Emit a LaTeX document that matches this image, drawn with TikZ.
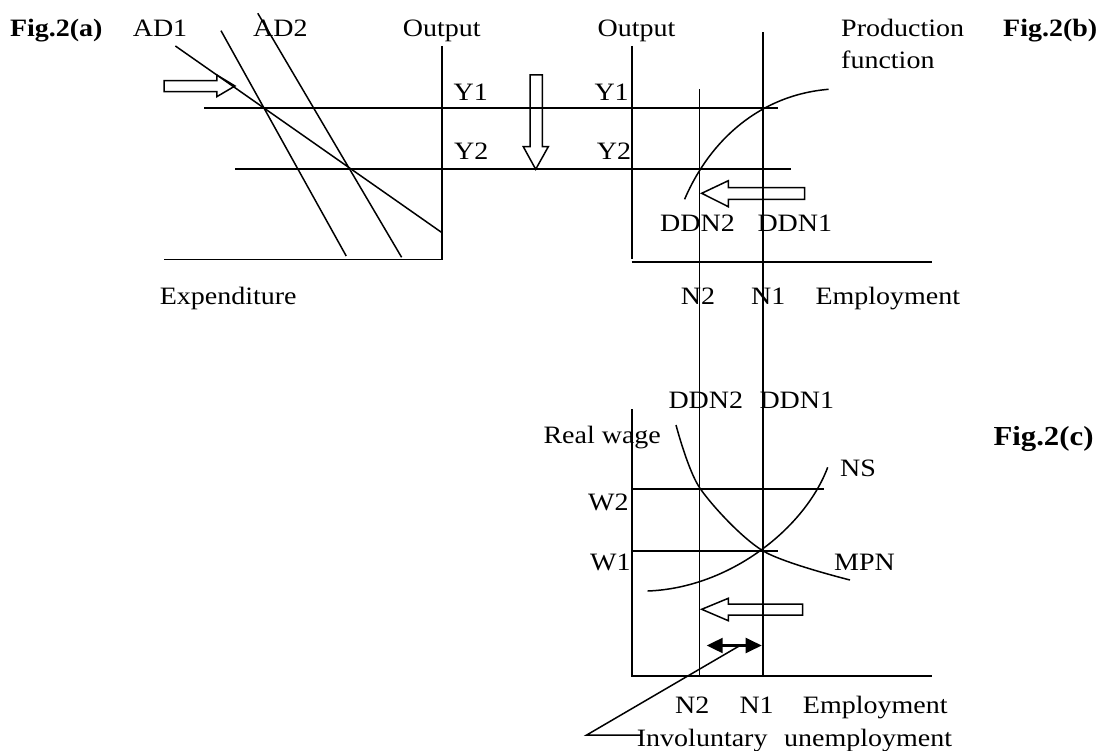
\documentclass[tikz,border=0pt]{standalone}
\usepackage{fontspec}
\setmainfont{Liberation Serif}[FakeStretch=1.12]
\usetikzlibrary{arrows.meta}
\begin{document}
\begin{tikzpicture}[x=1pt,y=-1pt,
  lbl/.style={anchor=base west, inner sep=0pt, font=\fontsize{25}{30}\selectfont},
  figlbl/.style={lbl, font=\fontsize{25}{30}\selectfont\bfseries},
  figlblc/.style={lbl, font=\fontsize{27.5}{32}\selectfont\bfseries},
  ln/.style={line width=1.9pt},
  thinln/.style={line width=1.5pt},
  blk/.style={line width=1.5pt, line join=miter},
  dbl/.style={line width=2.2pt, {Triangle[length=16pt,width=15pt]}-{Triangle[length=16pt,width=15pt]}}
]
\useasboundingbox (0,0) rectangle (1101,751);

% ---------- coordinates ----------
\coordinate (ad1s) at (175.4,46);   \coordinate (ad1e) at (442,232.7);
\coordinate (ads)  at (221,30.7);   \coordinate (ade)  at (346.2,256);
\coordinate (ad2s) at (257.8,13.3); \coordinate (ad2e) at (401.6,257.3);
\coordinate (axaT) at (442,46);     \coordinate (axaO) at (442,259.5); \coordinate (axaL) at (164.2,259.5);
\coordinate (y1L) at (204,107.7);   \coordinate (y1R) at (777.7,107.7);
\coordinate (y2L) at (235,169.3);   \coordinate (y2R) at (790.7,169.3);
\coordinate (axbT) at (631.7,46);   \coordinate (axbB) at (631.7,259.3);
\coordinate (axbL) at (631.7,262);  \coordinate (axbR) at (932.3,262);
\coordinate (n2T) at (699.5,89.3);  \coordinate (n2B) at (699.5,676);
\coordinate (n1T) at (763,32.3);    \coordinate (n1B) at (763,676);
\coordinate (axcT) at (631.7,409.3);\coordinate (axcO) at (631.7,676); \coordinate (axcR) at (931.7,676);
\coordinate (w2L) at (631.7,488.7); \coordinate (w2R) at (824,488.7);
\coordinate (w1L) at (631.7,551);   \coordinate (w1R) at (777.7,551);
\coordinate (pfA) at (684.6,199.3); \coordinate (pfB) at (828.6,89.3);
\coordinate (mpA) at (676,425);     \coordinate (mpB) at (850,580);
\coordinate (nsA) at (647.7,591);   \coordinate (nsB) at (827.7,467.3);
\coordinate (daL) at (706.7,645.5); \coordinate (daR) at (761.7,645.5);
\coordinate (ptrM) at (740,645.5);  \coordinate (ptrK) at (586.7,735); \coordinate (ptrE) at (641.7,735);

% ---------- panel (a) ----------
\draw[thinln] (ad1s) -- (ad1e);
\draw[thinln] (ads) -- (ade);
\draw[thinln] (ad2s) -- (ad2e);
\draw[ln] (axaT) -- (axaO) -- (axaL);
\draw[ln] (y1L) -- (y1R);
\draw[ln] (y2L) -- (y2R);

% open block arrows
\draw[blk] (164.2,80.7) -- (216.8,80.7) -- (216.8,75) -- (235,86) -- (216.8,96.7) -- (216.8,91.7) -- (164.2,91.7) -- cycle;
\draw[blk] (530,75) -- (542.3,75) -- (542.3,146.7) -- (548.3,146.7) -- (535.7,169.3) -- (523.3,146.7) -- (530,146.7) -- cycle;

% ---------- panel (b) ----------
\draw[ln] (axbT) -- (axbB);
\draw[ln] (axbL) -- (axbR);
\draw[ln] (n2T) -- (n2B);
\draw[ln] (n1T) -- (n1B);
\draw[thinln] (pfA) .. controls (710,140) and (760,95) .. (pfB);
\draw[blk] (804.7,187.7) -- (728.3,187.7) -- (728.3,180.7) -- (701.7,193.3) -- (728.3,206.7) -- (728.3,199.3) -- (804.7,199.3) -- cycle;

% ---------- panel (c) ----------
\draw[ln] (axcT) -- (axcO) -- (axcR);
\draw[ln] (w2L) -- (w2R);
\draw[thinln] (w1L) -- (w1R);
\draw[thinln] plot[smooth] coordinates {(mpA) (700,488.3) (762.7,550.7) (mpB)};
\draw[thinln] (nsA) .. controls (730,588) and (805,528) .. (nsB);
\draw[blk] (802.7,604) -- (728.3,604) -- (728.3,598.3) -- (701.7,609.3) -- (728.3,620.7) -- (728.3,615) -- (802.7,615) -- cycle;
\draw[dbl] (daL) -- (daR);
\draw[thinln] (ptrM) -- (ptrK) -- (ptrE);

% ---------- labels ----------
\node[figlbl] (figa) at (9.8,36.5) {Fig.2(a)};
\node[lbl] (tad1) at (132.6,36.5) {AD1};
\node[lbl] (tad2) at (253,36.5) {AD2};
\node[lbl] (touta) at (402.6,36.5) {Output};
\node[lbl] (toutb) at (597.4,36.5) {Output};
\node[lbl] (tprod) at (841,36.5) {Production};
\node[lbl] (tfunc) at (841,69) {function};
\node[figlbl] (figb) at (1003,36.5) {Fig.2(b)};
\node[lbl] (ty1a) at (453.5,100.7) {Y1};
\node[lbl] (ty2a) at (454,160) {Y2};
\node[lbl] (ty1b) at (594.3,100.7) {Y1};
\node[lbl] (ty2b) at (596.7,160) {Y2};
\node[lbl] (tddn2b) at (660,231.7) {DDN2};
\node[lbl] (tddn1b) at (757.3,231.7) {DDN1};
\node[lbl] (texp) at (159.6,305) {Expenditure};
\node[lbl] (tn2b) at (680.7,305) {N2};
\node[lbl] (tn1b) at (751,305) {N1};
\node[lbl] (tempb) at (815.3,305) {Employment};
\node[lbl] (tddn2c) at (668.3,408.3) {DDN2};
\node[lbl] (tddn1c) at (759.3,408.3) {DDN1};
\node[lbl] (trw) at (543.3,443.3) {Real wage};
\node[figlblc] (figc) at (993.3,445) {Fig.2(c)};
\node[lbl] (tns) at (840,476.7) {NS};
\node[lbl] (tw2) at (588,510.7) {W2};
\node[lbl] (tw1) at (590,570.7) {W1};
\node[lbl] (tmpn) at (834,570.7) {MPN};
\node[lbl] (tn2c) at (675,713.3) {N2};
\node[lbl] (tn1c) at (739.3,713.3) {N1};
\node[lbl] (tempc) at (802.7,713.3) {Employment};
\node[lbl] (tinv) at (636.7,746) {Involuntary};
\node[lbl] (tunemp) at (784,746) {unemployment};
\end{tikzpicture}
\end{document}
